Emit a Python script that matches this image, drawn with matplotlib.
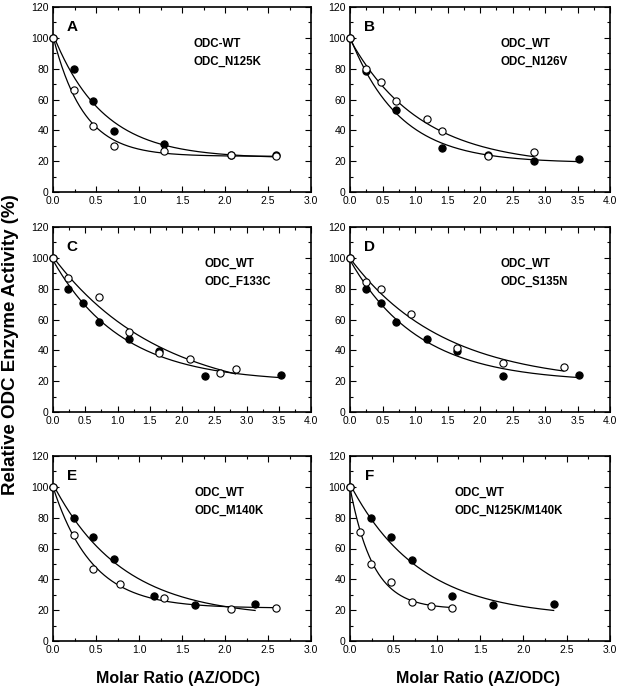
import numpy as np
import matplotlib
matplotlib.use('Agg')
import matplotlib.pyplot as plt
from matplotlib.ticker import MultipleLocator

plt.rcParams['font.family'] = ['Liberation Sans', 'DejaVu Sans']

# ---------------- data ----------------
# filled circles = ODC_WT, open circles = mutant
a_wt_x = [0, 0.24, 0.47, 0.71, 1.29, 2.07, 2.59]
a_wt_y = [100, 80, 59, 39.5, 31, 24, 24]
a_mu_x = [0, 0.24, 0.47, 0.71, 1.29, 2.07, 2.59]
a_mu_y = [100, 66, 43, 30, 26.5, 24, 23.4]
a_names = ['ODC-WT', 'ODC_N125K']

b_wt_x = [0, 0.24, 0.71, 1.41, 2.12, 2.83, 3.53]
b_wt_y = [100, 78.5, 53.5, 28.4, 24.2, 20.3, 21.4]
b_mu_x = [0, 0.24, 0.47, 0.71, 1.18, 1.41, 2.12, 2.83]
b_mu_y = [100, 80, 71.5, 59, 47.5, 39.4, 23.3, 25.8]
b_names = ['ODC_WT', 'ODC_N126V']

c_wt_x = [0, 0.24, 0.47, 0.71, 1.18, 1.65, 2.35, 3.53]
c_wt_y = [100, 80, 71, 58.7, 47.5, 39.6, 23.4, 23.8]
c_mu_x = [0, 0.24, 0.71, 1.18, 1.65, 2.12, 2.59, 2.83]
c_mu_y = [100, 86.6, 74.6, 52, 38, 34.5, 25, 28.2]
c_names = ['ODC_WT', 'ODC_F133C']

d_wt_x = [0, 0.24, 0.47, 0.71, 1.18, 1.65, 2.35, 3.53]
d_wt_y = [100, 80, 71, 58.7, 47.5, 39.4, 23.4, 23.8]
d_mu_x = [0, 0.24, 0.47, 0.94, 1.65, 2.35, 3.29]
d_mu_y = [100, 84, 80, 63.6, 41.6, 31.6, 29]
d_names = ['ODC_WT', 'ODC_S135N']

e_wt_x = [0, 0.24, 0.47, 0.71, 1.18, 1.65, 2.35]
e_wt_y = [100, 80, 67.3, 53, 29.5, 23.5, 24]
e_mu_x = [0, 0.24, 0.47, 0.78, 1.29, 2.07, 2.59]
e_mu_y = [100, 68.7, 46.8, 37, 28, 21, 21.1]
e_names = ['ODC_WT', 'ODC_M140K']

f_wt_x = [0, 0.24, 0.47, 0.71, 1.18, 1.65, 2.35]
f_wt_y = [100, 80, 67.2, 52.8, 29.5, 23.5, 24]
f_mu_x = [0, 0.12, 0.24, 0.47, 0.71, 0.94, 1.18]
f_mu_y = [100, 71, 50, 38.2, 25.3, 22.6, 21.2]
f_names = ['ODC_WT', 'ODC_N125K/M140K']

letters = ['A', 'B', 'C', 'D', 'E', 'F']
x_max = [3, 4, 4, 4, 3, 3]
name_x = [0.543, 0.577, 0.589, 0.577, 0.55, 0.40]

series = [
    (a_wt_x, a_wt_y, a_mu_x, a_mu_y, a_names),
    (b_wt_x, b_wt_y, b_mu_x, b_mu_y, b_names),
    (c_wt_x, c_wt_y, c_mu_x, c_mu_y, c_names),
    (d_wt_x, d_wt_y, d_mu_x, d_mu_y, d_names),
    (e_wt_x, e_wt_y, e_mu_x, e_mu_y, e_names),
    (f_wt_x, f_wt_y, f_mu_x, f_mu_y, f_names),
]


def fit_decay(x, y):
    """least-squares fit of y = c + a*exp(-k x)"""
    x = np.asarray(x, float)
    y = np.asarray(y, float)
    best = None
    for k in np.linspace(0.05, 15, 3000):
        M = np.column_stack([np.ones_like(x), np.exp(-k * x)])
        coef = np.linalg.lstsq(M, y, rcond=None)[0]
        sse = np.sum((M @ coef - y) ** 2)
        if best is None or sse < best[0]:
            best = (sse, k, coef)
    return best[1], best[2]


W, H = 620, 692
fig = plt.figure(figsize=(W / 100, H / 100), dpi=100)

lefts = [53, 350]
widths = [258, 260]
tops = [7, 227, 456]
height = 185

for i, (wx, wy, mx, my, names) in enumerate(series):
    col = i % 2
    row = i // 2
    l = lefts[col] / W
    w = widths[col] / W
    b = 1 - (tops[row] + height) / H
    h = height / H
    ax = fig.add_axes([l, b, w, h])

    for xs_, ys_ in ((wx, wy), (mx, my)):
        k, (c, a) = fit_decay(xs_, ys_)
        xx = np.linspace(0, max(xs_), 300)
        ax.plot(xx, c + a * np.exp(-k * xx), color='black', lw=0.9, zorder=2)

    ax.plot(wx, wy, 'o', ms=5.2, mfc='black', mec='black', mew=0.8,
            zorder=3, clip_on=False)
    ax.plot(mx, my, 'o', ms=5.2, mfc='white', mec='black', mew=0.8,
            zorder=4, clip_on=False)

    ax.set_xlim(0, x_max[i])
    ax.set_ylim(0, 120)
    ax.xaxis.set_major_locator(MultipleLocator(0.5))
    ax.xaxis.set_minor_locator(MultipleLocator(0.25))
    ax.yaxis.set_major_locator(MultipleLocator(20))
    ax.yaxis.set_minor_locator(MultipleLocator(10))
    ax.xaxis.set_major_formatter(plt.FuncFormatter(lambda v, p: f'{v:.1f}'))
    ax.tick_params(which='both', direction='in', top=True, right=True,
                   labelsize=7.5, pad=3, colors='black', width=0.8)
    ax.tick_params(which='major', length=4)
    ax.tick_params(which='minor', length=2.5)
    for sp in ax.spines.values():
        sp.set_linewidth(1.2)

    ax.text(0.075, 0.89, letters[i], transform=ax.transAxes, ha='center',
            va='center', fontsize=11, fontweight='bold')
    ax.text(name_x[i], 0.80, names[0], transform=ax.transAxes, ha='left',
            va='center', fontsize=8.3, fontweight='bold')
    ax.text(name_x[i], 0.705, names[1], transform=ax.transAxes, ha='left',
            va='center', fontsize=8.3, fontweight='bold')

fig.text(11 / W, 1 - 345 / H, 'Relative ODC Enzyme Activity (%)',
         rotation=90, ha='center', va='center', fontsize=13.5,
         fontweight='bold')
fig.text(178 / W, 1 - 679 / H, 'Molar Ratio (AZ/ODC)', ha='center',
         va='center', fontsize=11.5, fontweight='bold')
fig.text(478 / W, 1 - 679 / H, 'Molar Ratio (AZ/ODC)', ha='center',
         va='center', fontsize=11.5, fontweight='bold')

fig.savefig('out.png', dpi=100)
